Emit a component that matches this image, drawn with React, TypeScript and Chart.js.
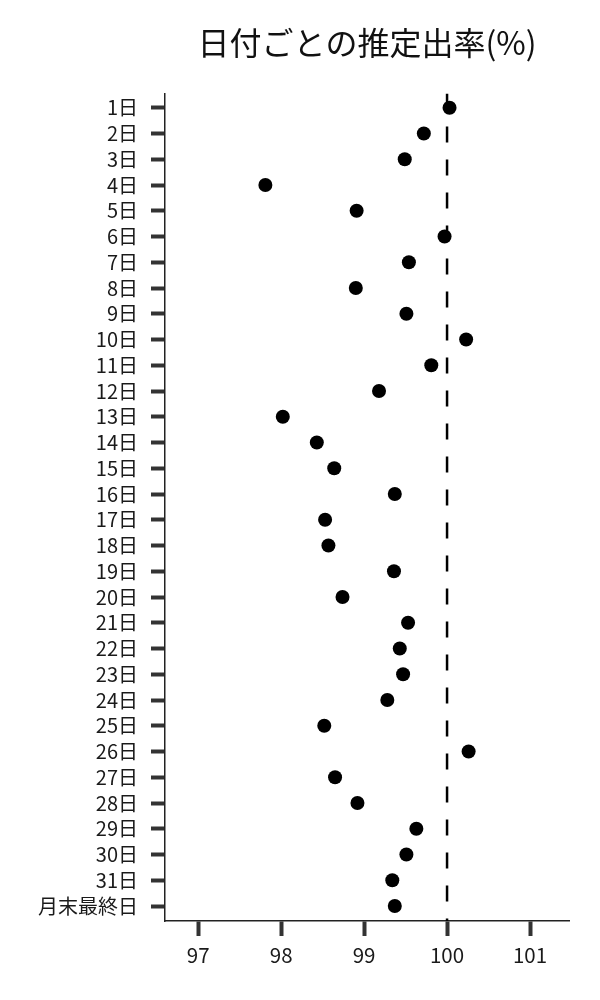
import React, { useEffect, useRef } from "react";
import { Chart, registerables } from "chart.js";

Chart.register(...registerables);

const dayLabels: string[] = [
  "1日", "2日", "3日", "4日", "5日", "6日", "7日", "8日", "9日", "10日",
  "11日", "12日", "13日", "14日", "15日", "16日", "17日", "18日", "19日", "20日",
  "21日", "22日", "23日", "24日", "25日", "26日", "27日", "28日", "29日", "30日",
  "31日", "月末最終日",
];

const rates: number[] = [
  100.03, 99.72, 99.49, 97.81, 98.91, 99.97, 99.54, 98.9, 99.51, 100.23,
  99.81, 99.18, 98.02, 98.43, 98.64, 99.37, 98.53, 98.57, 99.36, 98.74,
  99.53, 99.43, 99.47, 99.28, 98.52, 100.26, 98.65, 98.92, 99.63, 99.51,
  99.34, 99.37,
];

const xTicks: number[] = [97, 98, 99, 100, 101];
const referenceValue = 100;
const titleText = "日付ごとの推定出率(%)";

const FONT = "'Noto Sans CJK JP', 'Noto Sans', sans-serif";

export default function App() {
  const canvasRef = useRef<HTMLCanvasElement | null>(null);

  useEffect(() => {
    document.body.style.margin = "0";
    const canvas = canvasRef.current;
    if (!canvas) return;
    const yMin = -0.56;
    const yMax = dayLabels.length - 1 + 0.58;
    const chart = new Chart(canvas, {
      type: "scatter",
      data: {
        datasets: [
          {
            type: "scatter",
            data: rates.map((v, i) => ({ x: v, y: i })),
            backgroundColor: "#000000",
            borderWidth: 0,
            pointRadius: 7,
            pointHoverRadius: 7,
          },
          {
            type: "line",
            data: [
              { x: referenceValue, y: yMin },
              { x: referenceValue, y: yMax },
            ],
            borderColor: "#000000",
            borderWidth: 2.5,
            borderDash: [16, 17],
            pointRadius: 0,
            fill: false,
          } as any,
        ],
      },
      options: {
        animation: false,
        responsive: true,
        maintainAspectRatio: false,
        devicePixelRatio: 1,
        layout: { padding: { left: 0, right: 31, top: 0, bottom: 0 } },
        plugins: {
          legend: { display: false },
          tooltip: { enabled: false },
          title: {
            display: true,
            text: titleText,
            fullSize: false,
            color: "#111111",
            font: { family: FONT, size: 32, weight: "normal" as any, lineHeight: 1.2 },
            padding: { top: 24, bottom: 31 },
          },
        },
        scales: {
          x: {
            type: "linear",
            min: 96.6,
            max: 101.47,
            afterBuildTicks: (scale: any) => {
              scale.ticks = xTicks.map((v) => ({ value: v }));
            },
            afterFit: (scale: any) => {
              scale.height = 79;
            },
            grid: {
              display: true,
              drawOnChartArea: false,
              drawTicks: true,
              tickLength: 15,
              tickWidth: 4,
              tickColor: "#333333",
            },
            border: { display: true, color: "#222222", width: 1.5 },
            ticks: {
              color: "#1a1a1a",
              font: { family: FONT, size: 20.5 },
              padding: 7,
              maxRotation: 0,
              callback: (v: any) => String(v),
            },
          },
          y: {
            type: "linear",
            reverse: true,
            min: yMin,
            max: yMax,
            afterBuildTicks: (scale: any) => {
              scale.ticks = dayLabels.map((_, i) => ({ value: i }));
            },
            afterFit: (scale: any) => {
              scale.width = 165;
            },
            grid: {
              display: true,
              drawOnChartArea: false,
              drawTicks: true,
              tickLength: 14,
              tickWidth: 4,
              tickColor: "#333333",
            },
            border: { display: true, color: "#222222", width: 1.5 },
            ticks: {
              color: "#1a1a1a",
              font: { family: FONT, size: 20 },
              padding: 13,
              autoSkip: false,
              callback: (v: any) => dayLabels[Math.round(Number(v))] ?? "",
            },
          },
        },
      },
    });
    return () => chart.destroy();
  }, []);

  return (
    <div style={{ width: 600, height: 1000, position: "relative" }}>
      <canvas ref={canvasRef} />
    </div>
  );
}
